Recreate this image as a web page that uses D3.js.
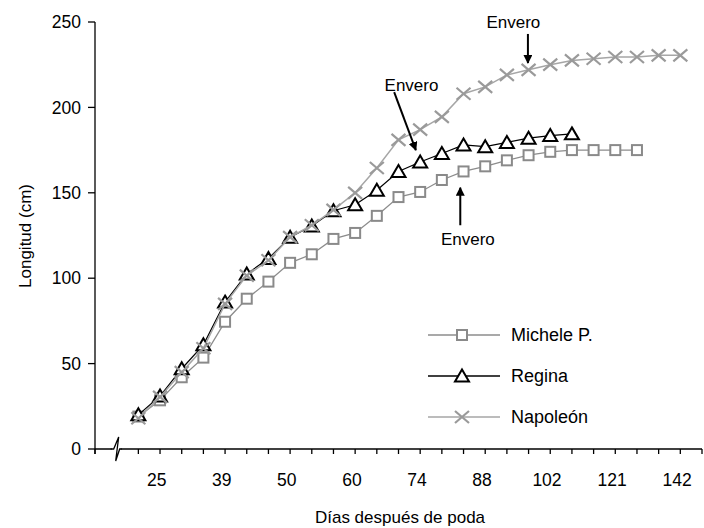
<!DOCTYPE html>
<html><head><meta charset="utf-8">
<script src="https://cdn.jsdelivr.net/npm/d3@7"></script>
<style>html,body{margin:0;padding:0;background:#fff;}svg{display:block;font-family:Arial,"Liberation Sans",sans-serif;}</style>
</head><body>
<svg id="c" width="704" height="528"></svg>
<script>
// Sampling slots along the category axis (0 and 1 are the broken-axis gap)
const firstSlot = 2;
const slotCount = 28;
const tickLabels = ["25","39","50","60","74","88","102","121","142"];
const yTicks = [0,50,100,150,200,250];
const micheleP = [19,28.5,42,53.5,74.5,88,98,109,114,123,126.5,136.5,147.5,150.5,157.5,162.5,165.5,169,172,174,175,175,175,175];
const regina   = [20,31,47,61,86,102.5,111.5,124,130.5,139.5,143,151.5,162.5,168,173,178,177,179.5,182,183.5,184.5];
const napoleon = [18,30.5,45,59,85,101.5,110.5,124,131,140,150,164.5,181,187,194.5,208,212,219,222,225,227.5,228.5,229.5,229.5,230.5,230.5];
const seriesNames = ["Michele P.","Regina","Napoleón"];
const annotations = [
  {text:"Envero", slot:19.3, val:250, from:[19.97,243], to:[19.97,226]},
  {text:"Envero", slot:14.6, val:213, from:[13.8,209], to:[14.8,175]},
  {text:"Envero", slot:17.2, val:123, from:[16.85,131], to:[16.85,153]}
];

const svg = d3.select("#c");
const x = d3.scaleLinear().domain([0, slotCount]).range([95, 702]);
const y = d3.scaleLinear().domain([0, 250]).range([449, 22]);
const font = 17;

// Y axis
svg.append("line").attr("x1",95).attr("x2",95).attr("y1",y(250)).attr("y2",454).attr("stroke","#000").attr("stroke-width",1.3);
yTicks.forEach(t=>{
  svg.append("line").attr("x1",88).attr("x2",95).attr("y1",y(t)).attr("y2",y(t)).attr("stroke","#000").attr("stroke-width",1.3);
  svg.append("text").attr("x",81).attr("y",y(t)).attr("dy","0.35em").attr("text-anchor","end").attr("font-size",17.5).text(t);
});
// X axis
svg.append("line").attr("x1",95).attr("x2",x(slotCount)).attr("y1",449).attr("y2",449).attr("stroke","#000").attr("stroke-width",1.3);
d3.range(0, slotCount+1).filter(i=>i!==1).forEach(i=>{
  svg.append("line").attr("x1",x(i)).attr("x2",x(i)).attr("y1",449).attr("y2",454).attr("stroke","#000").attr("stroke-width",1.3);
});
tickLabels.forEach((l,k)=>{
  svg.append("text").attr("x",x(firstSlot+0.85+3*k)).attr("y",486).attr("text-anchor","middle").attr("font-size",17.5).text(l);
});
// axis break
const bx = x(1);
svg.append("rect").attr("x",bx-5).attr("y",444).attr("width",9).attr("height",10).attr("fill","#fff");
svg.append("path").attr("d",`M${bx-6},449 L${bx-3},449 L${bx+2},437 L${bx-1},461 L${bx+3},449 L${bx+5},449`).attr("fill","none").attr("stroke","#000").attr("stroke-width",1.3);

// Titles
svg.append("text").attr("x",400).attr("y",523).attr("text-anchor","middle").attr("font-size",font).text("Días después de poda");
svg.append("text").attr("transform","translate(25,236) rotate(-90)").attr("dy","0.35em").attr("text-anchor","middle").attr("font-size",font).text("Longitud (cm)");

const line = d3.line().x((d,i)=>x(firstSlot+i)).y(d=>y(d));
function square(g,cx,cy){g.append("rect").attr("x",cx-5).attr("y",cy-5).attr("width",10).attr("height",10).attr("fill","#fff").attr("stroke","#8a8a8a").attr("stroke-width",2);}
function tri(g,cx,cy){g.append("path").attr("d",`M${cx},${cy-6.5} L${cx+7},${cy+5.5} L${cx-7},${cy+5.5} Z`).attr("fill","#fff").attr("stroke","#000").attr("stroke-width",2);}
function cross(g,cx,cy){g.append("path").attr("d",`M${cx-7},${cy-6} L${cx+7},${cy+6} M${cx-7},${cy+6} L${cx+7},${cy-6}`).attr("fill","none").attr("stroke","#9a9a9a").attr("stroke-width",2.2);}

const gM = svg.append("g");
gM.append("path").attr("d",line(micheleP)).attr("fill","none").attr("stroke","#8c8c8c").attr("stroke-width",1.3);
micheleP.forEach((v,i)=>square(gM,x(firstSlot+i),y(v)));
const gR = svg.append("g");
gR.append("path").attr("d",line(regina)).attr("fill","none").attr("stroke","#000").attr("stroke-width",1.2);
regina.forEach((v,i)=>tri(gR,x(firstSlot+i),y(v)));
const gN = svg.append("g");
gN.append("path").attr("d",line(napoleon)).attr("fill","none").attr("stroke","#a6a6a6").attr("stroke-width",1.5);
napoleon.forEach((v,i)=>cross(gN,x(firstSlot+i),y(v)));

// Annotations
const defs = svg.append("defs");
defs.append("marker").attr("id","ah").attr("viewBox","0 0 10 10").attr("refX",9).attr("refY",5).attr("markerWidth",4.5).attr("markerHeight",4.5).attr("orient","auto")
  .append("path").attr("d","M0,0 L10,5 L0,10 Z").attr("fill","#000");
annotations.forEach(a=>{
  svg.append("text").attr("x",x(a.slot)).attr("y",y(a.val)).attr("dy","0.35em").attr("text-anchor","middle").attr("font-size",font).text(a.text);
  svg.append("line").attr("x1",x(a.from[0])).attr("y1",y(a.from[1])).attr("x2",x(a.to[0])).attr("y2",y(a.to[1]))
    .attr("stroke","#000").attr("stroke-width",2).attr("marker-end","url(#ah)");
});

// Legend
const legY = [335,376,417];
const drawers = [square,tri,cross];
const lcol = ["#8c8c8c","#000","#a6a6a6"];
seriesNames.forEach((n,k)=>{
  svg.append("line").attr("x1",428).attr("x2",500).attr("y1",legY[k]).attr("y2",legY[k]).attr("stroke",lcol[k]).attr("stroke-width",1.3);
  drawers[k](svg,462,legY[k]);
  svg.append("text").attr("x",511).attr("y",legY[k]).attr("dy","0.35em").attr("font-size",18).text(n);
});
</script>
</body></html>
